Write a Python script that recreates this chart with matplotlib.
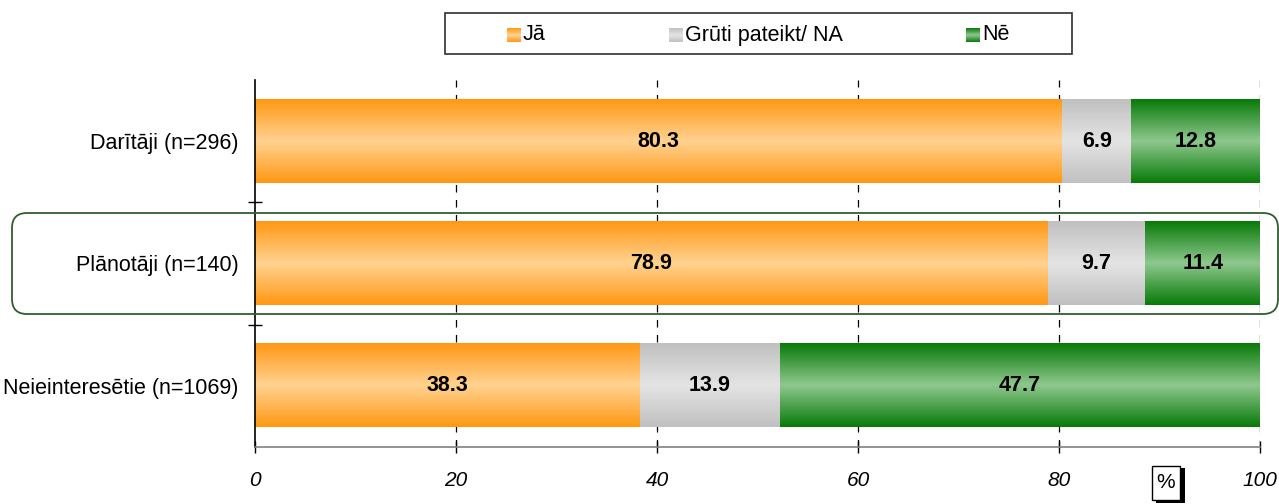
import matplotlib
matplotlib.use("Agg")
import matplotlib.pyplot as plt
import numpy as np
from matplotlib.colors import LinearSegmentedColormap
from matplotlib.patches import Rectangle, FancyBboxPatch
from matplotlib.transforms import IdentityTransform

plt.rcParams['font.family'] = ['Liberation Sans', 'DejaVu Sans']

categories = ["Darītāji (n=296)", "Plānotāji (n=140)", "Neieinteresētie (n=1069)"]
series_names = ["Jā", "Grūti pateikt/ NA", "Nē"]
ja = [80.3, 78.9, 38.3]
gruti = [6.9, 9.7, 13.9]
ne = [12.8, 11.4, 47.7]
xticks = [0, 20, 40, 60, 80, 100]

edge_cols = ["#FF9814", "#C0C0C0", "#087A08"]
center_cols = ["#FFD291", "#E4E4E4", "#8EC88E"]
cmaps = [LinearSegmentedColormap.from_list(f"g{i}", [e, c, e])
         for i, (e, c) in enumerate(zip(edge_cols, center_cols))]
grad = np.linspace(0, 1, 256).reshape(-1, 1)

W, H = 1279, 504
fig = plt.figure(figsize=(W / 100, H / 100), dpi=100)
ax = fig.add_axes([255 / W, (H - 447) / H, (1260 - 255) / W, (447 - 80) / H])

y = np.arange(len(categories))
left = np.zeros(len(categories))
for vals, cmap in zip([ja, gruti, ne], cmaps):
    bars = ax.barh(y, vals, left=left, height=0.68, color='none', edgecolor='none', zorder=2)
    for b, v in zip(bars, vals):
        x0, y0, w, h = b.get_x(), b.get_y(), b.get_width(), b.get_height()
        ax.imshow(grad, extent=[x0, x0 + w, y0, y0 + h], aspect='auto', cmap=cmap,
                  zorder=2, interpolation='bilinear')
        ax.text(x0 + w / 2, y0 + h / 2, f"{v:.1f}", ha='center', va='center',
                fontsize=15.5, fontweight='bold', color='black', zorder=3)
    left = left + np.array(vals)

ax.set_xlim(0, 100)
ax.set_ylim(2.5, -0.5)
ax.set_aspect('auto')

ax.set_xticks(xticks)
ax.set_xticklabels([str(t) for t in xticks], fontsize=15, style='italic')
ax.tick_params(axis='x', direction='inout', length=8, width=1, color='black', pad=13)
ax.set_yticks(y)
ax.set_yticklabels(categories, fontsize=15.5)
ax.tick_params(axis='y', which='major', length=0, pad=12)
ax.set_yticks([0.5, 1.5], minor=True)
ax.tick_params(axis='y', which='minor', direction='inout', length=10, width=1, color='black')

for t in xticks[1:]:
    ax.axvline(t, color='black', lw=0.9, ls=(0, (6, 6)), zorder=1)

for s in ['top', 'right']:
    ax.spines[s].set_visible(False)
ax.spines['left'].set_color('black')
ax.spines['left'].set_linewidth(1.2)
ax.spines['bottom'].set_color('#808080')
ax.spines['bottom'].set_linewidth(1.2)

tr = IdentityTransform()
# highlight rounded box around "Plānotāji"
fig.patches.append(FancyBboxPatch((12, H - 314), 1266, 101,
                                  boxstyle="round,pad=0,rounding_size=15",
                                  transform=tr, fill=False, edgecolor='#2F5F2F', lw=1.3,
                                  zorder=5))

# legend
fig.patches.append(Rectangle((445, H - 54), 627, 41, transform=tr, fill=False,
                             edgecolor='#303030', lw=1.2))
leg_patch_x = [507, 669, 966]
for name, px, cmap in zip(series_names, leg_patch_x, cmaps):
    lax = fig.add_axes([px / W, (H - 42) / H, 14 / W, 14 / H])
    lax.imshow(grad, aspect='auto', cmap=cmap, interpolation='bilinear')
    lax.axis('off')
    fig.text((px + 16) / W, (H - 35) / H, name, fontsize=15.5, va='center', ha='left')

# "%" box with shadow
fig.patches.append(Rectangle((1156, H - 503), 29, 35, transform=tr, facecolor='black',
                             edgecolor='none'))
fig.patches.append(Rectangle((1152, H - 500), 28, 34, transform=tr, facecolor='white',
                             edgecolor='black', lw=1))
fig.text(1166 / W, (H - 483) / H, "%", fontsize=15, ha='center', va='center')

fig.savefig("out.png", dpi=100)
